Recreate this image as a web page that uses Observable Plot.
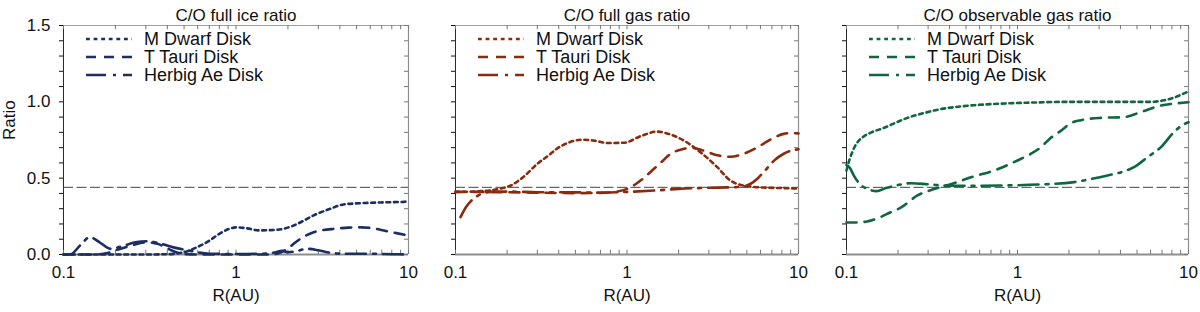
<!DOCTYPE html>
<html><head><meta charset="utf-8">
<script src="https://cdn.jsdelivr.net/npm/d3@7"></script>
<script src="https://cdn.jsdelivr.net/npm/@observablehq/plot@0.6"></script>
<style>
body{margin:0;background:#fff;}
#chart{position:relative;width:1200px;height:312px;overflow:hidden;background:#fff;}
#chart svg{position:absolute;top:0;}
</style></head><body><div id="chart"></div>
<script>
// ---------- data ----------
const seriesNames = ["M Dwarf Disk", "T Tauri Disk", "Herbig Ae Disk"];
const panelTitles = ["C/O full ice ratio", "C/O full gas ratio", "C/O observable gas ratio"];
const panelColors = ["#1c2f63", "#8a2b0e", "#0f6641"];
const solarRatio = [0.44];
const xTickValues = [0.1,0.2,0.3,0.4,0.5,0.6,0.7,0.8,0.9,1,2,3,4,5,6,7,8,9,10];
const xLabelValues = [0.1, 1, 10];
const xTickLabels = ["0.1", "1", "10"];
const yTickValues = [0,0.1,0.2,0.3,0.4,0.5,0.6,0.7,0.8,0.9,1.0,1.1,1.2,1.3,1.4,1.5];
const yLabelValues = [0, 0.5, 1.0, 1.5];
const yTickLabels = ["0.0", "0.5", "1.0", "1.5"];
const xAxisLabel = "R(AU)";
const yAxisLabel = "Ratio";

// [R (AU), C/O ratio]
const iceMDwarf = [[0.1,0],[0.2,0],[0.3,0],[0.4,0.002],[0.5,0.015],[0.6,0.05],[0.7,0.09],[0.8,0.135],[0.9,0.165],[1.0,0.178],[1.15,0.172],[1.36,0.158],[1.73,0.162],[2.16,0.19],[2.5,0.225],[2.82,0.256],[3.53,0.3],[4.2,0.328],[5.5,0.337],[7.5,0.342],[9.4,0.345],[10,0.35]];
const iceTTauri = [[0.1,0],[0.15,0],[0.18,0.01],[0.21,0.035],[0.25,0.06],[0.3,0.08],[0.35,0.07],[0.4,0.04],[0.45,0.015],[0.5,0.003],[0.6,0],[1,0],[1.6,0],[1.8,0.012],[2.0,0.04],[2.16,0.07],[2.5,0.12],[2.82,0.146],[3.2,0.16],[3.7,0.168],[4.5,0.176],[5.3,0.178],[6.2,0.172],[7.2,0.157],[8.5,0.14],[10,0.125]];
const iceHerbig = [[0.1,0],[0.11,0.002],[0.125,0.06],[0.142,0.113],[0.162,0.08],[0.187,0.037],[0.22,0.055],[0.261,0.08],[0.308,0.087],[0.357,0.074],[0.44,0.045],[0.533,0.026],[0.6,0.014],[0.7,0.005],[1,0.003],[1.4,0.005],[1.7,0.015],[1.85,0.025],[2.0,0.015],[2.2,0.02],[2.59,0.037],[3.0,0.028],[3.53,0.011],[4.2,0.005],[6,0.005],[8,0.002],[10,0]];

const gasMDwarf = [[0.1,0.41],[0.14,0.415],[0.18,0.43],[0.21,0.452],[0.25,0.51],[0.3,0.594],[0.35,0.65],[0.39,0.693],[0.45,0.73],[0.55,0.752],[0.65,0.745],[0.77,0.73],[0.96,0.732],[1.2,0.775],[1.5,0.805],[1.75,0.79],[2.14,0.747],[2.68,0.67],[3.36,0.572],[4.0,0.485],[4.6,0.455],[5.2,0.445],[6.5,0.438],[8,0.435],[10,0.432]];
const gasTTauri = [[0.1,0.41],[0.15,0.41],[0.2,0.408],[0.3,0.405],[0.5,0.402],[0.7,0.403],[0.85,0.41],[1.0,0.43],[1.12,0.46],[1.25,0.5],[1.4,0.55],[1.57,0.6],[1.8,0.66],[2.1,0.69],[2.4,0.698],[2.8,0.68],[3.36,0.65],[4.0,0.64],[4.8,0.66],[5.5,0.69],[6.3,0.728],[7.2,0.765],[8.2,0.79],[9,0.795],[10,0.793]];
const gasHerbig = [[0.107,0.245],[0.115,0.31],[0.123,0.35],[0.131,0.376],[0.145,0.402],[0.16,0.41],[0.2,0.412],[0.3,0.408],[0.5,0.407],[0.7,0.405],[1,0.41],[1.5,0.42],[2,0.43],[3,0.437],[4,0.44],[4.6,0.443],[5.2,0.46],[5.8,0.5],[6.5,0.56],[7.2,0.615],[8.2,0.66],[10,0.69]];

const obsMDwarf = [[0.1,0.55],[0.104,0.62],[0.108,0.67],[0.115,0.73],[0.125,0.77],[0.14,0.8],[0.166,0.83],[0.2,0.87],[0.227,0.895],[0.28,0.925],[0.355,0.952],[0.45,0.968],[0.557,0.978],[0.7,0.985],[0.87,0.99],[1.2,0.995],[2,1.0],[4,1.0],[6,1.0],[7.2,1.01],[8.2,1.027],[9.2,1.05],[10,1.068]];
const obsTTauri = [[0.1,0.21],[0.115,0.21],[0.13,0.215],[0.15,0.235],[0.18,0.275],[0.21,0.31],[0.26,0.387],[0.33,0.43],[0.42,0.465],[0.55,0.51],[0.73,0.55],[1.0,0.616],[1.2,0.66],[1.37,0.703],[1.55,0.76],[1.79,0.81],[2.05,0.86],[2.35,0.88],[3.07,0.895],[4.2,0.9],[5.26,0.933],[6.9,0.976],[8.5,0.99],[10,0.997]];
const obsHerbig = [[0.1,0.585],[0.105,0.565],[0.11,0.52],[0.12,0.46],[0.128,0.437],[0.14,0.42],[0.15,0.415],[0.17,0.435],[0.2,0.455],[0.24,0.467],[0.3,0.46],[0.4,0.45],[0.56,0.45],[0.8,0.452],[1.37,0.459],[2.14,0.474],[2.7,0.495],[3.36,0.518],[4.2,0.545],[4.8,0.572],[5.8,0.64],[6.9,0.703],[8.2,0.8],[9,0.84],[10,0.866]];

const panelSeries = [
  [iceMDwarf, iceTTauri, iceHerbig],
  [gasMDwarf, gasTTauri, gasHerbig],
  [obsMDwarf, obsTTauri, obsHerbig]
];

// ---------- styles ----------
const dashes = ["3.8,3.8", "10,8", "20,7,3,7"];
const FONT = '"Liberation Sans", Arial, Helvetica, sans-serif';
const layout = [
  {left: 0,   width: 420, ml: 63, mr: 12, showY: true},
  {left: 420, width: 390, ml: 35, mr: 12, showY: false},
  {left: 810, width: 390, ml: 36, mr: 12, showY: false}
];
const MT = 25, MB = 58, H = 312;

function xFmt(d) { const k = xLabelValues.findIndex(v => Math.abs(v - d) < 1e-9); return k >= 0 ? xTickLabels[k] : ""; }
function yFmt(d) { const k = yLabelValues.findIndex(v => Math.abs(v - d) < 1e-9); return k >= 0 ? yTickLabels[k] : ""; }

const chart = document.getElementById("chart");

panelSeries.forEach((series, i) => {
  const L = layout[i];
  const color = panelColors[i];
  const marks = [
    Plot.ruleY([0], {stroke: "#8e8e8e", strokeWidth: 2}),
    Plot.ruleY([1.5], {stroke: "#a0a0a0", strokeWidth: 1}),
    Plot.ruleX([10], {stroke: "#8e8e8e", strokeWidth: 1.2}),
    Plot.ruleX([0.1], {stroke: "#2a2a2a", strokeWidth: 1}),
    // inward ticks (top, bottom, right)
    Plot.ruleX(xTickValues, {y1: 1.5, y2: 1.5 - 0.028, stroke: "#777"}),
    Plot.ruleX(xTickValues, {y1: 0, y2: 0.028, stroke: "#777"}),
    Plot.ruleY(yTickValues, {x1: 10, x2: 10 / 1.055, stroke: "#777"}),
    // reference
    Plot.ruleY(solarRatio, {stroke: "#444", strokeWidth: 1, strokeDasharray: "10,3.5"}),
    ...series.map((s, k) => Plot.line(s, {
      x: d => d[0], y: d => d[1], stroke: color, strokeWidth: 2.6,
      strokeDasharray: dashes[k], curve: "monotone-x"
    })),
    Plot.text([panelTitles[i]], {text: d => d, frameAnchor: "top", dy: -17, fill: "#111"}),
    Plot.text([xAxisLabel], {text: d => d, frameAnchor: "bottom", dy: 46, fill: "#111"})
  ];
  if (L.showY) marks.push(Plot.text([yAxisLabel], {text: d => d, frameAnchor: "left", dx: -54, rotate: -90, fill: "#111"}));

  const svg = Plot.plot({
    width: L.width, height: H,
    marginLeft: L.ml, marginRight: L.mr, marginTop: MT, marginBottom: MB,
    style: {fontSize: "17px", fontFamily: FONT, background: "transparent", color: "#111", overflow: "visible"},
    x: {type: "log", domain: [0.1, 10], ticks: xTickValues, tickFormat: xFmt, tickSize: 0, tickPadding: 11, label: null},
    y: {domain: [0, 1.5], ticks: yTickValues, tickFormat: L.showY ? yFmt : () => "", tickSize: 4, tickPadding: 9, label: null},
    marks
  });
  svg.style.left = L.left + "px";

  // legend inside frame
  const g = d3.select(svg).append("g").attr("transform", `translate(${L.ml},0)`)
    .attr("font-family", FONT).attr("font-size", 18).attr("text-anchor", "start");
  seriesNames.forEach((name, k) => {
    const y = 39 + 18 * k;
    g.append("line").attr("x1", 23).attr("x2", 69).attr("y1", y).attr("y2", y)
      .attr("stroke", color).attr("stroke-width", 2.6).attr("stroke-dasharray", dashes[k]);
    g.append("text").attr("x", 81).attr("y", y).attr("dy", "0.35em").attr("fill", "#111")
      .attr("text-anchor", "start").text(name);
  });
  chart.appendChild(svg);
});
</script></body></html>
